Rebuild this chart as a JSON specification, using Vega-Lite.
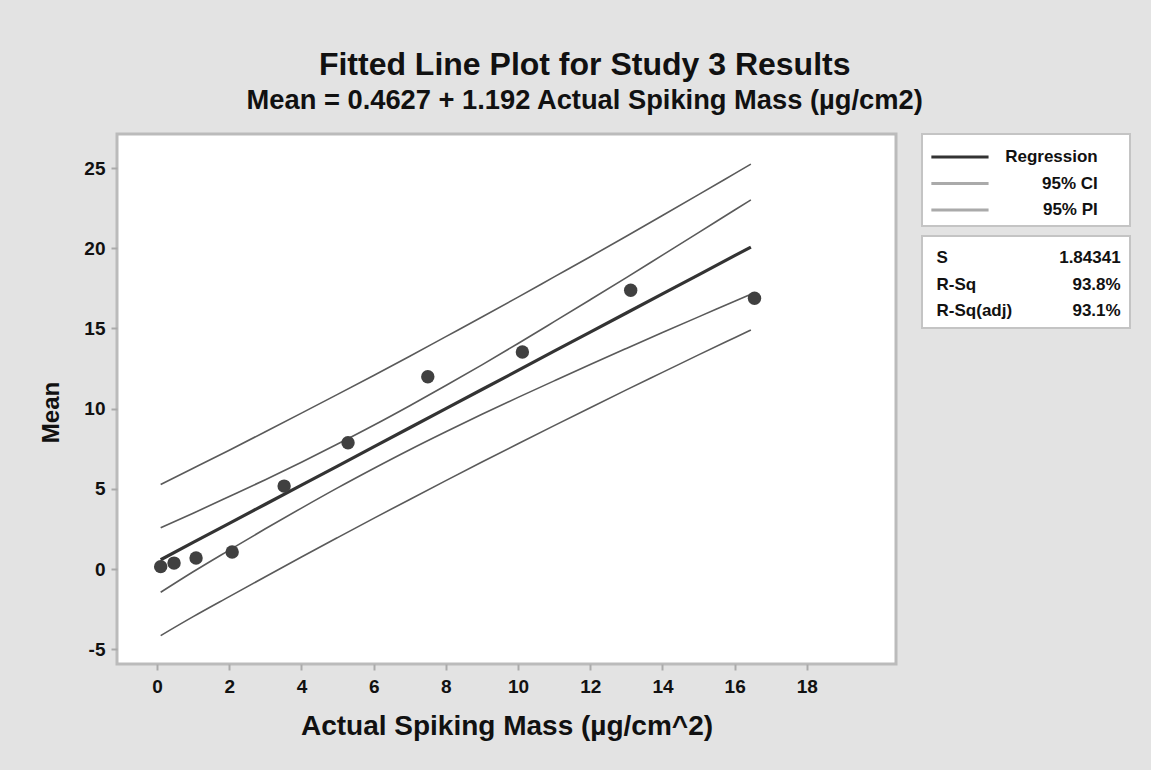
{
  "$schema": "https://vega.github.io/schema/vega-lite/v6.json",
  "background": "#e3e3e3",
  "padding": {"left": 38, "top": 49, "right": 21, "bottom": 37},
  "title": {
    "text": "Fitted Line Plot for Study 3 Results",
    "subtitle": "Mean = 0.4627 + 1.192 Actual Spiking Mass (µg/cm2)",
    "anchor": "middle",
    "frame": "bounds",
    "font": "Liberation Sans",
    "fontSize": 32,
    "fontWeight": "bold",
    "color": "#111111",
    "subtitleFont": "Liberation Sans",
    "subtitleFontSize": 27.3,
    "subtitleFontWeight": "bold",
    "subtitleColor": "#111111",
    "subtitlePadding": 5,
    "offset": 17
  },
  "config": {"font": "Liberation Sans", "view": {"stroke": null}},
  "datasets": {
    "points": [
      {"x": 0.1, "y": 0.15},
      {"x": 0.47, "y": 0.37},
      {"x": 1.08, "y": 0.69},
      {"x": 2.08, "y": 1.06},
      {"x": 3.52, "y": 5.17},
      {"x": 5.29, "y": 7.87},
      {"x": 7.5, "y": 11.99},
      {"x": 10.12, "y": 13.53},
      {"x": 13.12, "y": 17.38},
      {"x": 16.55, "y": 16.88}
    ],
    "bands": [
      {"x": 0.1, "fit": 0.58, "ci_lo": -1.45, "ci_hi": 2.57, "pi_lo": -4.15, "pi_hi": 5.27},
      {"x": 1, "fit": 1.66, "ci_lo": -0.17, "ci_hi": 3.48, "pi_lo": -2.97, "pi_hi": 6.28},
      {"x": 2, "fit": 2.85, "ci_lo": 1.18, "ci_hi": 4.52, "pi_lo": -1.72, "pi_hi": 7.41},
      {"x": 3, "fit": 4.04, "ci_lo": 2.51, "ci_hi": 5.57, "pi_lo": -0.48, "pi_hi": 8.56},
      {"x": 4, "fit": 5.23, "ci_lo": 3.80, "ci_hi": 6.66, "pi_lo": 0.75, "pi_hi": 9.72},
      {"x": 5, "fit": 6.42, "ci_lo": 5.06, "ci_hi": 7.79, "pi_lo": 1.96, "pi_hi": 10.89},
      {"x": 6, "fit": 7.62, "ci_lo": 6.27, "ci_hi": 8.96, "pi_lo": 3.16, "pi_hi": 12.07},
      {"x": 7, "fit": 8.81, "ci_lo": 7.44, "ci_hi": 10.18, "pi_lo": 4.34, "pi_hi": 13.27},
      {"x": 8, "fit": 10.00, "ci_lo": 8.56, "ci_hi": 11.44, "pi_lo": 5.51, "pi_hi": 14.49},
      {"x": 9, "fit": 11.19, "ci_lo": 9.65, "ci_hi": 12.73, "pi_lo": 6.67, "pi_hi": 15.71},
      {"x": 10, "fit": 12.38, "ci_lo": 10.70, "ci_hi": 14.06, "pi_lo": 7.81, "pi_hi": 16.95},
      {"x": 11, "fit": 13.58, "ci_lo": 11.73, "ci_hi": 15.42, "pi_lo": 8.94, "pi_hi": 18.21},
      {"x": 12, "fit": 14.77, "ci_lo": 12.75, "ci_hi": 16.79, "pi_lo": 10.06, "pi_hi": 19.47},
      {"x": 13, "fit": 15.96, "ci_lo": 13.75, "ci_hi": 18.17, "pi_lo": 11.17, "pi_hi": 20.75},
      {"x": 14, "fit": 17.15, "ci_lo": 14.74, "ci_hi": 19.57, "pi_lo": 12.26, "pi_hi": 22.04},
      {"x": 15, "fit": 18.34, "ci_lo": 15.72, "ci_hi": 20.97, "pi_lo": 13.35, "pi_hi": 23.34},
      {"x": 16, "fit": 19.54, "ci_lo": 16.69, "ci_hi": 22.38, "pi_lo": 14.42, "pi_hi": 24.65},
      {"x": 16.45, "fit": 20.07, "ci_lo": 17.13, "ci_hi": 23.01, "pi_lo": 14.90, "pi_hi": 25.24}
    ],
    "legend": [
      {"item": "Regression"},
      {"item": "95% CI"},
      {"item": "95% PI"}
    ],
    "stats": [
      {"stat": "S", "value": "1.84341"},
      {"stat": "R-Sq", "value": "93.8%"},
      {"stat": "R-Sq(adj)", "value": "93.1%"}
    ]
  },
  "spacing": 23,
  "hconcat": [
    {
      "width": 779,
      "height": 530,
      "view": {"fill": "white", "stroke": "#bbbbbb", "strokeWidth": 3},
      "encoding": {
        "x": {
          "field": "x",
          "type": "quantitative",
          "scale": {"domain": [-1.11, 20.47], "nice": false, "zero": false},
          "axis": {
            "values": [0, 2, 4, 6, 8, 10, 12, 14, 16, 18],
            "grid": false,
            "domain": false,
            "tickColor": "#aaaaaa",
            "tickSize": 6,
            "tickWidth": 2,
            "labelFontSize": 19,
            "labelFontWeight": "bold",
            "labelColor": "#111111",
            "labelPadding": 7,
            "title": "Actual Spiking Mass (µg/cm^2)",
            "titleFontSize": 28,
            "titleFontWeight": "bold",
            "titleColor": "#111111",
            "titlePadding": 16
          }
        },
        "y": {
          "field": "y",
          "type": "quantitative",
          "scale": {"domain": [-5.92, 27.12], "nice": false, "zero": false},
          "axis": {
            "values": [-5, 0, 5, 10, 15, 20, 25],
            "labelExpr": "'' + datum.value",
            "grid": false,
            "domain": false,
            "tickColor": "#aaaaaa",
            "tickSize": 6,
            "tickWidth": 2,
            "labelFontSize": 19,
            "labelFontWeight": "bold",
            "labelColor": "#111111",
            "labelPadding": 6,
            "title": "Mean",
            "titleFontSize": 24,
            "titleFontWeight": "bold",
            "titleColor": "#111111",
            "titlePadding": 20,
            "titleY": 278
          }
        }
      },
      "layer": [
        {
          "data": {"name": "bands"},
          "transform": [{"fold": ["ci_lo", "ci_hi", "pi_lo", "pi_hi"], "as": ["band", "y"]}],
          "mark": {"type": "line", "color": "#5a5a5a", "strokeWidth": 1.6, "interpolate": "monotone"},
          "encoding": {"detail": {"field": "band", "type": "nominal"}}
        },
        {
          "data": {"name": "bands"},
          "transform": [{"fold": ["fit"], "as": ["band", "y"]}],
          "mark": {"type": "line", "color": "#333333", "strokeWidth": 3.2},
          "encoding": {}
        },
        {
          "data": {"name": "points"},
          "mark": {"type": "circle", "color": "#404040", "opacity": 1, "size": 180},
          "encoding": {}
        }
      ]
    },
    {
      "spacing": 8,
      "vconcat": [
        {
          "width": 208,
          "height": 92,
          "view": {"fill": "white", "stroke": "#c4c4c4", "strokeWidth": 2},
          "data": {"name": "legend"},
          "encoding": {
            "y": {"field": "item", "type": "nominal", "sort": null, "scale": {"type": "point", "range": [23, 76], "padding": 0}, "axis": null}
          },
          "layer": [
            {
              "mark": {"type": "rule", "strokeWidth": 3},
              "encoding": {
                "x": {"datum": 0.045, "type": "quantitative", "scale": {"domain": [0, 1], "nice": false}, "axis": null},
                "x2": {"datum": 0.32},
                "color": {"field": "item", "type": "nominal", "scale": {"domain": ["Regression", "95% CI", "95% PI"], "range": ["#333333", "#aaaaaa", "#aaaaaa"]}, "legend": null}
              }
            },
            {
              "mark": {"type": "text", "align": "right", "baseline": "middle", "fontSize": 17, "fontWeight": "bold", "color": "#111111"},
              "encoding": {
                "x": {"datum": 0.845, "type": "quantitative"},
                "text": {"field": "item"}
              }
            }
          ]
        },
        {
          "width": 208,
          "height": 92,
          "view": {"fill": "white", "stroke": "#c4c4c4", "strokeWidth": 2},
          "data": {"name": "stats"},
          "encoding": {
            "y": {"field": "stat", "type": "nominal", "sort": null, "scale": {"type": "point", "range": [22, 75], "padding": 0}, "axis": null}
          },
          "layer": [
            {
              "mark": {"type": "text", "align": "left", "baseline": "middle", "fontSize": 17, "fontWeight": "bold", "color": "#111111"},
              "encoding": {
                "x": {"datum": 0.07, "type": "quantitative", "scale": {"domain": [0, 1], "nice": false}, "axis": null},
                "text": {"field": "stat"}
              }
            },
            {
              "mark": {"type": "text", "align": "right", "baseline": "middle", "fontSize": 17, "fontWeight": "bold", "color": "#111111"},
              "encoding": {
                "x": {"datum": 0.955, "type": "quantitative"},
                "text": {"field": "value"}
              }
            }
          ]
        }
      ]
    }
  ]
}
